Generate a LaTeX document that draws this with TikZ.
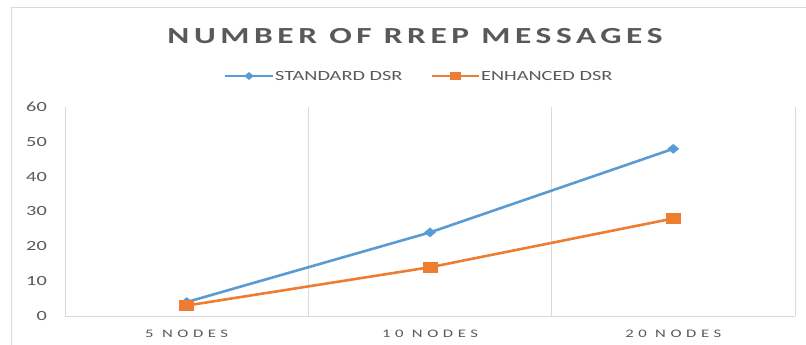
\documentclass[tikz,border=0pt]{standalone}
\usepackage{fontspec}
\setmainfont{Carlito}
\newfontfamily\chartfont[FakeStretch=1.45]{Carlito}
\newfontfamily\catfont[FakeStretch=1.45,LetterSpace=40]{Carlito}
\newfontfamily\titlefont[FakeStretch=1.45,LetterSpace=20]{Carlito}
\usetikzlibrary{shapes.geometric}
\definecolor{stdblue}{HTML}{5B9BD5}
\definecolor{enhorange}{HTML}{ED7D31}
\definecolor{gridgray}{HTML}{D9D9D9}
\definecolor{labelgray}{HTML}{595959}

\begin{document}
\begin{tikzpicture}
[
x=1pt,y=-1pt,
grid/.style={draw=gridgray,line width=1pt},
ytick/.style={anchor=east,inner sep=0pt,text=labelgray,font=\chartfont\fontsize{14}{16}\selectfont},
xcat/.style={inner sep=0pt,text=labelgray,font=\catfont\fontsize{11.5}{13}\selectfont},
legtext/.style={anchor=west,inner sep=0pt,text=labelgray,font=\chartfont\fontsize{14}{16}\selectfont},
stdline/.style={draw=stdblue,line width=2.6pt},
enhline/.style={draw=enhorange,line width=2.6pt},
stdmark/.style 2 args={diamond,fill=stdblue,inner sep=0pt,minimum width=#1,minimum height=#2},
enhmark/.style 2 args={rectangle,fill=enhorange,inner sep=0pt,minimum width=#1,minimum height=#2},
]
\useasboundingbox (0,0) rectangle (806,345);

%Chart frame and grid
\draw[grid] (11,345) -- (11,8) -- (806,8);
\foreach \gx in {65,308.3,551.7,795}
  \draw[grid] (\gx,107) -- (\gx,316);
\draw[grid] (65,316) -- (795,316);

%Title and legend
\node[text=labelgray,inner sep=0pt,font=\titlefont\bfseries\fontsize{23}{26}\selectfont] (title) at (415,36) {NUMBER OF RREP MESSAGES};
\coordinate (ls1) at (225,76);
\coordinate (ls2) at (273,76);
\coordinate (le1) at (432,76);
\coordinate (le2) at (479,76);
\draw[stdline,line width=2.2pt] (ls1) -- (ls2);
\node[stdmark={10pt}{8pt}] (lsm) at (249,76) {};
\node[legtext] (lstext) at (275,76) {STANDARD DSR};
\draw[enhline,line width=2.2pt] (le1) -- (le2);
\node[enhmark={11pt}{8pt}] (lem) at (455,76) {};
\node[legtext] (letext) at (481,76) {ENHANCED DSR};

%Axis labels
\foreach \v in {0,10,...,60}
  \node[ytick] (y\v) at (47,{316-\v*209/60}) {\v};
\node[xcat] (c5) at (186.7,333.5) {5 NODES};
\node[xcat] (c10) at (430,333.5) {10 NODES};
\node[xcat] (c20) at (673.3,333.5) {20 NODES};

%Place the data points
\coordinate (s5) at (186.7,{316-4*209/60});
\coordinate (s10) at (430,{316-24*209/60});
\coordinate (s20) at (673.3,{316-48*209/60});
\coordinate (e5) at (186.7,{316-3*209/60});
\coordinate (e10) at (430,{316-14*209/60});
\coordinate (e20) at (673.3,{316-28*209/60});

%Draw the series
\draw[stdline] (s5) -- (s10) -- (s20);
\foreach \p in {s5,s10,s20}
  \node[stdmark={12pt}{10pt}] (\p m) at (\p) {};
\draw[enhline] (e5) -- (e10) -- (e20);
\foreach \p in {e5,e10,e20}
  \node[enhmark={15pt}{11pt}] (\p m) at (\p) {};
\end{tikzpicture}
\end{document}
